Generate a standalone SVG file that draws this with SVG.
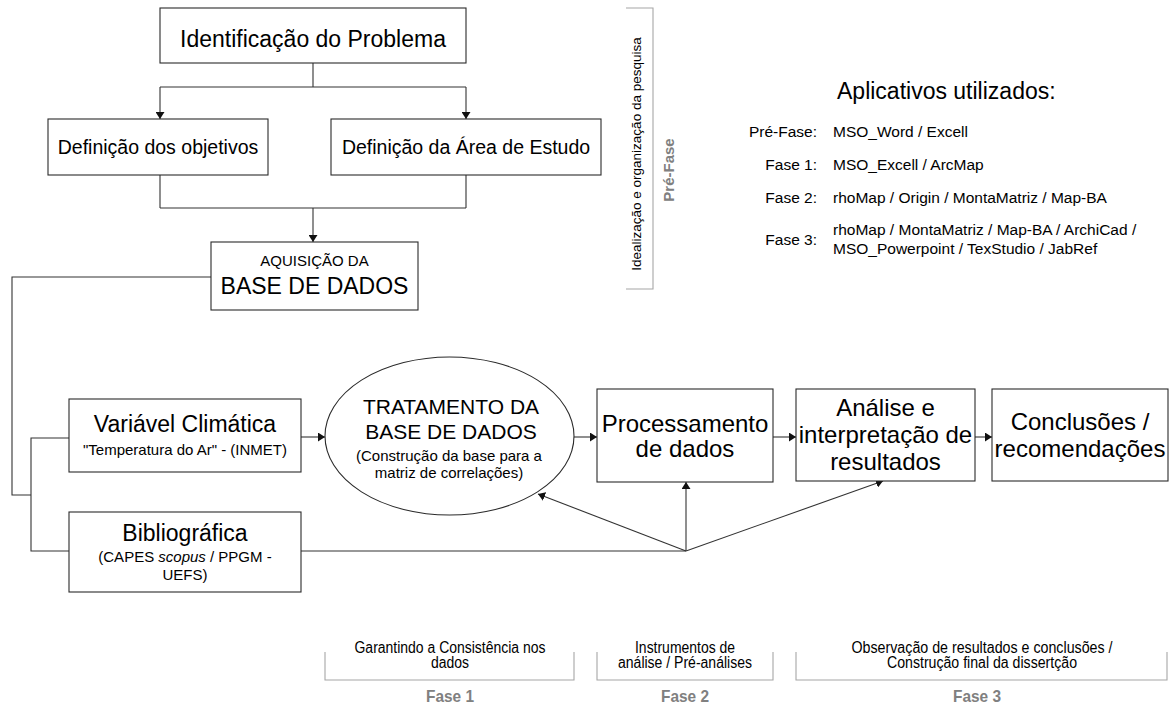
<svg xmlns="http://www.w3.org/2000/svg" width="1173" height="707" viewBox="0 0 1173 707">
<style>
text{font-family:"Liberation Sans",Arial,sans-serif;fill:#000}
.box{fill:#fff;stroke:#2a2a2a;stroke-width:1.1}
.ln{fill:none;stroke:#333;stroke-width:1.1}
.ar{fill:none;stroke:#333;stroke-width:1.1;marker-end:url(#ah)}
.br{fill:none;stroke:#a6a6a6;stroke-width:1.1}
.t23{font-size:23px}
.t24{font-size:24px}
.t195{font-size:19.5px}
.t21{font-size:21px}
.t15{font-size:15px}
.t155{font-size:15.5px}
.nar{font-family:"Liberation Sans Narrow","Liberation Sans",Arial,sans-serif;font-size:16px}
.fase{font-family:"Liberation Sans Narrow","Liberation Sans",Arial,sans-serif;font-size:17px;font-weight:bold;fill:#808080}
</style>
<defs>
<marker id="ah" markerUnits="userSpaceOnUse" markerWidth="7" markerHeight="9" refX="7" refY="4.5" orient="auto">
<path d="M0,0 L7,4.5 L0,9 z" fill="#111"/>
</marker>
</defs>
<rect width="1173" height="707" fill="#fff"/>

<g id="connectors">
<path class="ln" d="M313,63 V87 M160,87 H466"/>
<path class="ar" d="M160,87 V119"/>
<path class="ar" d="M466,87 V119"/>
<path class="ln" d="M160,175 V208 M466,175 V208 M160,208 H466"/>
<path class="ar" d="M313,208 V242"/>
<path class="ln" d="M211,277 H12 V495 H31"/>
<path class="ln" d="M69,438 H31 V551 H69"/>
<path class="ar" d="M301,437 H325"/>
<path class="ar" d="M574,437 H597"/>
<path class="ar" d="M773,437 H796"/>
<path class="ar" d="M975,437 H992"/>
<path class="ln" d="M301,551 H686"/>
<path class="ar" d="M686,551 V482"/>
<path class="ar" d="M686,551 L538,494"/>
<path class="ar" d="M686,551 L883,481"/>
</g>

<g id="n-identificacao">
<rect class="box" x="160" y="8" width="306" height="55"/>
<text class="t23" x="313" y="47" text-anchor="middle">Identificação do Problema</text>
</g>
<g id="n-objetivos">
<rect class="box" x="48" y="119" width="220" height="56"/>
<text class="t195" x="158" y="154" text-anchor="middle">Definição dos objetivos</text>
</g>
<g id="n-area">
<rect class="box" x="331" y="119" width="270" height="56"/>
<text class="t195" x="466" y="154" text-anchor="middle">Definição da Área de Estudo</text>
</g>
<g id="n-aquisicao">
<rect class="box" x="211" y="242" width="207" height="68"/>
<text class="t15" x="314.5" y="266" text-anchor="middle">AQUISIÇÃO DA</text>
<text class="t23" x="314.5" y="294" text-anchor="middle">BASE DE DADOS</text>
</g>
<g id="n-variavel">
<rect class="box" x="69" y="399" width="232" height="73"/>
<text class="t23" x="185" y="432" text-anchor="middle">Variável Climática</text>
<text class="t15" x="185" y="455" text-anchor="middle">"Temperatura do Ar" - (INMET)</text>
</g>
<g id="n-bibliografica">
<rect class="box" x="69" y="512" width="232" height="80"/>
<text class="t23" x="185" y="541" text-anchor="middle">Bibliográfica</text>
<text class="t15" x="185" y="562" text-anchor="middle">(CAPES <tspan font-style="italic">scopus</tspan> / PPGM -</text>
<text class="t15" x="185" y="580" text-anchor="middle">UEFS)</text>
</g>
<g id="n-tratamento">
<ellipse cx="449.5" cy="436" rx="124.5" ry="79" fill="#fff" stroke="#2a2a2a" stroke-width="1.1"/>
<text class="t21" x="451" y="414" text-anchor="middle">TRATAMENTO DA</text>
<text class="t21" x="451" y="439" text-anchor="middle">BASE DE DADOS</text>
<text class="t15" x="449" y="461" text-anchor="middle">(Construção da base para a</text>
<text class="t15" x="449" y="478" text-anchor="middle">matriz de correlações)</text>
</g>
<g id="n-processamento">
<rect class="box" x="597" y="389" width="176" height="93"/>
<text class="t24" x="685" y="432" text-anchor="middle">Processamento</text>
<text class="t24" x="685" y="457" text-anchor="middle">de dados</text>
</g>
<g id="n-analise">
<rect class="box" x="796" y="389" width="179" height="92"/>
<text class="t24" x="885.5" y="416" text-anchor="middle">Análise e</text>
<text class="t24" x="885.5" y="443" text-anchor="middle">interpretação de</text>
<text class="t24" x="885.5" y="470" text-anchor="middle">resultados</text>
</g>
<g id="n-conclusoes">
<rect class="box" x="992" y="389" width="176" height="92"/>
<text class="t24" x="1080" y="430" text-anchor="middle">Conclusões /</text>
<text class="t24" x="1080" y="457" text-anchor="middle">recomendações</text>
</g>

<g id="prefase">
<path class="br" d="M626,8 H653 V289 H626"/>
<text x="641" y="0" transform="translate(641,154) rotate(-90) translate(-641,0)" font-size="13.5" text-anchor="middle">Idealização e organização da pesquisa</text>
<text transform="translate(674,170) rotate(-90)" x="0" y="0" font-size="15" font-weight="bold" fill="#808080" style="fill:#808080" text-anchor="middle">Pré-Fase</text>
</g>

<g id="aplicativos">
<text class="t23" x="837" y="99">Aplicativos utilizados:</text>
<text class="t155" x="817" y="137" text-anchor="end">Pré-Fase:</text>
<text class="t155" x="833" y="137">MSO_Word / Excell</text>
<text class="t155" x="817" y="170" text-anchor="end">Fase 1:</text>
<text class="t155" x="833" y="170">MSO_Excell / ArcMap</text>
<text class="t155" x="817" y="203" text-anchor="end">Fase 2:</text>
<text class="t155" x="833" y="203">rhoMap / Origin / MontaMatriz / Map-BA</text>
<text class="t155" x="817" y="245" text-anchor="end">Fase 3:</text>
<text class="t155" x="833" y="235">rhoMap / MontaMatriz / Map-BA / ArchiCad /</text>
<text class="t155" x="833" y="254">MSO_Powerpoint / TexStudio / JabRef</text>
</g>

<g id="fase1">
<path class="br" d="M325,652 V680 H574 V652"/>
<text class="nar" x="450" y="653" text-anchor="middle" textLength="191" lengthAdjust="spacingAndGlyphs">Garantindo a Consistência nos</text>
<text class="nar" x="450" y="668" text-anchor="middle" textLength="38" lengthAdjust="spacingAndGlyphs">dados</text>
<text class="fase" x="450" y="702" text-anchor="middle" textLength="48" lengthAdjust="spacingAndGlyphs">Fase 1</text>
</g>
<g id="fase2">
<path class="br" d="M597,652 V680 H773 V652"/>
<text class="nar" x="685" y="653" text-anchor="middle" textLength="100" lengthAdjust="spacingAndGlyphs">Instrumentos de</text>
<text class="nar" x="685" y="668" text-anchor="middle" textLength="134" lengthAdjust="spacingAndGlyphs">análise / Pré-análises</text>
<text class="fase" x="685" y="702" text-anchor="middle" textLength="48" lengthAdjust="spacingAndGlyphs">Fase 2</text>
</g>
<g id="fase3">
<path class="br" d="M796,652 V680 H1167 V652"/>
<text class="nar" x="982" y="653" text-anchor="middle" textLength="261" lengthAdjust="spacingAndGlyphs">Observação de resultados e  conclusões /</text>
<text class="nar" x="982" y="668" text-anchor="middle" textLength="190" lengthAdjust="spacingAndGlyphs">Construção final da dissertção</text>
<text class="fase" x="977" y="702" text-anchor="middle" textLength="48" lengthAdjust="spacingAndGlyphs">Fase 3</text>
</g>
</svg>
